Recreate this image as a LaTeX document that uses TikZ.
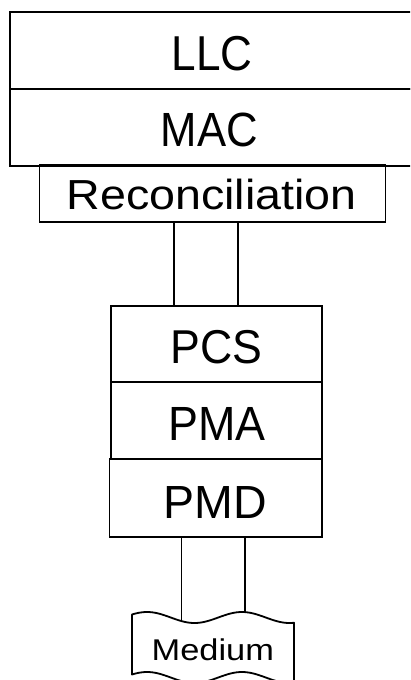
\documentclass[tikz,border=0pt]{standalone}
\usepackage{fontspec}
\setmainfont{Liberation Sans}
\usepackage{graphicx}
\newcommand\lbl[3]{{\fontsize{#1}{#1}\selectfont\scalebox{#2}[1]{#3}}}
\begin{document}
\begin{tikzpicture}[x=1pt,y=-1pt,
  box/.style={draw, line width=1.8pt, inner sep=0pt, outer sep=0pt},
  txt/.style={anchor=base, inner sep=0pt},
  conn/.style={line width=1.8pt}]
\useasboundingbox (0,0) rectangle (410,680);
\clip (0,0) rectangle (410,680);
% boxes
\node[box, minimum width=405pt, minimum height=76.7pt] (llc) at (212.5,50.35) {};
\node[box, minimum width=405pt, minimum height=77pt] (mac) at (212.5,127.2) {};
\node[box, minimum width=346pt, minimum height=57pt] (rec) at (212.5,193.5) {};
\node[box, minimum width=64pt, minimum height=84pt] (link) at (206,264) {};
\node[box, minimum width=211.3pt, minimum height=76.6pt] (pcs) at (216.35,344) {};
\node[box, minimum width=211.3pt, minimum height=76.7pt] (pma) at (216.35,420.65) {};
\node[box, minimum width=212.5pt, minimum height=77.7pt] (pmd) at (215.75,497.85) {};
% texts
\node[txt] (tllc) at (212,70.5) {\lbl{49}{0.9}{LLC}};
\node[txt] (tmac) at (209.2,146.7) {\lbl{48}{0.91}{MAC}};
\node[txt] (trec) at (211.7,209.5) {\lbl{42}{1.11}{Reconciliation}};
\node[txt] (tpcs) at (216.5,363.3) {\lbl{47.5}{0.94}{PCS}};
\node[txt] (tpma) at (217,440.7) {\lbl{48}{0.935}{PMA}};
\node[txt] (tpmd) at (215,518.3) {\lbl{46.5}{1.0}{PMD}};
% medium shape
\draw[conn, line join=round]
  plot[domain=132:294, samples=80] (\x, {617.5-5.5*cos(3.78947*(\x-147))})
  -- plot[domain=294:132, samples=80] (\x, {677.5-5.5*cos(3.78947*(\x-147))})
  -- cycle;
\node[txt] (tmed) at (212.8,660.7) {\lbl{30}{1.146}{Medium}};
% connector lines PMD -> medium
\coordinate (m1) at (181.5,621.1);
\coordinate (m2) at (245,612.1);
\draw[conn] (pmd.south -| m1) -- (m1);
\draw[conn] (pmd.south -| m2) -- (m2);
\end{tikzpicture}
\end{document}
